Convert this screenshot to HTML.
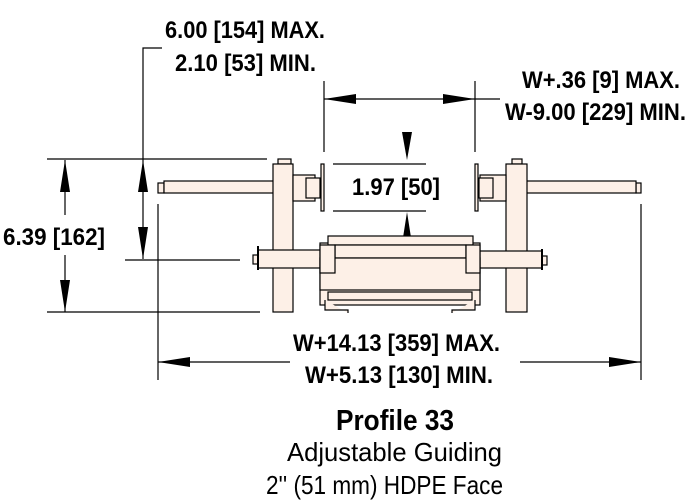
<!DOCTYPE html>
<html><head><meta charset="utf-8"><style>
html,body{margin:0;padding:0;background:#fff;}
svg{display:block}
.b{font-family:"Liberation Sans Narrow","Liberation Sans",sans-serif;font-weight:bold;font-size:24px;fill:#000}
.n{font-family:"Liberation Sans Narrow","Liberation Sans",sans-serif;font-size:26px;fill:#000}
</style></head><body>
<svg width="690" height="502" viewBox="0 0 690 502" xmlns="http://www.w3.org/2000/svg">
<g stroke="#000" stroke-width="1.2" fill="none">
<line x1="47" y1="159" x2="267" y2="159"/>
<line x1="47" y1="312" x2="260" y2="312"/>
<line x1="65" y1="160" x2="65" y2="215"/>
<line x1="65" y1="255" x2="65" y2="312"/>
<polyline points="162,48 143,48 143,259"/>
<line x1="125" y1="260" x2="240" y2="260"/>
<line x1="158" y1="204" x2="158" y2="380"/>
<line x1="641" y1="204" x2="641" y2="380"/>
<line x1="158" y1="362" x2="290" y2="362"/>
<line x1="520" y1="362" x2="641" y2="362"/>
<line x1="324" y1="81" x2="324" y2="152"/>
<line x1="475" y1="81" x2="475" y2="152"/>
<line x1="324" y1="99" x2="500" y2="99"/>
<line x1="333" y1="164" x2="426" y2="164"/>
<line x1="333" y1="211" x2="426" y2="211"/>
</g>
<g fill="#000">
<polygon points="65,160 60,192 70,192"/>
<polygon points="65,312 60,280 70,280"/>
<polygon points="143,160 138,192 148,192"/>
<polygon points="143,259 138,227 148,227"/>
<polygon points="324,99 356,94 356,104"/>
<polygon points="475,99 443,94 443,104"/>
<polygon points="158,362 190,357 190,367"/>
<polygon points="641,362 609,357 609,367"/>
<polygon points="407,160 402,132 412,132"/>
<polygon points="407,212 402,244 412,244"/>
</g>
<g stroke="#000" stroke-width="1.2" fill="#fdf0e7">
<rect x="158" y="183" width="6" height="10"/>
<rect x="164" y="181" width="111" height="12"/>
<rect x="636" y="183" width="5" height="10"/>
<rect x="525" y="181" width="111" height="12"/>
<rect x="278" y="159" width="13" height="5"/>
<rect x="273" y="164" width="20" height="148"/>
<rect x="512" y="159" width="10" height="5"/>
<rect x="506" y="164" width="21" height="148"/>
<rect x="293" y="175" width="22" height="26"/>
<rect x="306" y="178" width="14" height="20"/>
<rect x="321" y="164" width="3" height="47"/>
<rect x="480" y="175" width="26" height="26"/>
<rect x="479" y="178" width="14" height="20"/>
<rect x="475" y="164" width="3" height="47"/>
<rect x="253" y="255" width="5" height="9"/>
<rect x="258" y="250" width="64" height="18"/>
<line x1="258" y1="246" x2="258" y2="270" stroke-width="2"/>
<rect x="542" y="256" width="5" height="9"/>
<rect x="478" y="251" width="64" height="17"/>
<line x1="542" y1="249" x2="542" y2="270" stroke-width="2"/>
<rect x="320" y="243" width="160" height="62"/>
<rect x="328" y="236" width="145" height="9"/>
<rect x="335" y="245" width="131" height="13"/>
<rect x="320" y="258" width="160" height="32"/>
<rect x="328" y="292" width="144" height="8"/>
<rect x="320" y="245" width="15" height="28"/>
<rect x="466" y="245" width="14" height="28"/>
<polyline points="325,300 325,310 348,310 348,313"/>
<polyline points="475,300 475,310 452,310 452,313"/>
</g>
<text class="b" x="165" y="38" textLength="160" lengthAdjust="spacingAndGlyphs">6.00 [154] MAX.</text>
<text class="b" x="175" y="71" textLength="141" lengthAdjust="spacingAndGlyphs">2.10 [53] MIN.</text>
<text class="b" x="522" y="88" textLength="158" lengthAdjust="spacingAndGlyphs">W+.36 [9] MAX.</text>
<text class="b" x="505" y="120" textLength="181" lengthAdjust="spacingAndGlyphs">W-9.00 [229] MIN.</text>
<text class="b" x="352" y="195" textLength="88" lengthAdjust="spacingAndGlyphs">1.97 [50]</text>
<text class="b" x="3" y="245" textLength="102" lengthAdjust="spacingAndGlyphs">6.39 [162]</text>
<text class="b" x="293" y="351" textLength="207" lengthAdjust="spacingAndGlyphs">W+14.13 [359] MAX.</text>
<text class="b" x="305" y="383" textLength="188" lengthAdjust="spacingAndGlyphs">W+5.13 [130] MIN.</text>
<text class="b" x="336" y="430" style="font-size:29px" textLength="118" lengthAdjust="spacingAndGlyphs">Profile 33</text>
<text class="n" x="287" y="461" textLength="215" lengthAdjust="spacingAndGlyphs">Adjustable Guiding</text>
<text class="n" x="266" y="494" textLength="237" lengthAdjust="spacingAndGlyphs">2'' (51 mm) HDPE Face</text>
</svg>
</body></html>
